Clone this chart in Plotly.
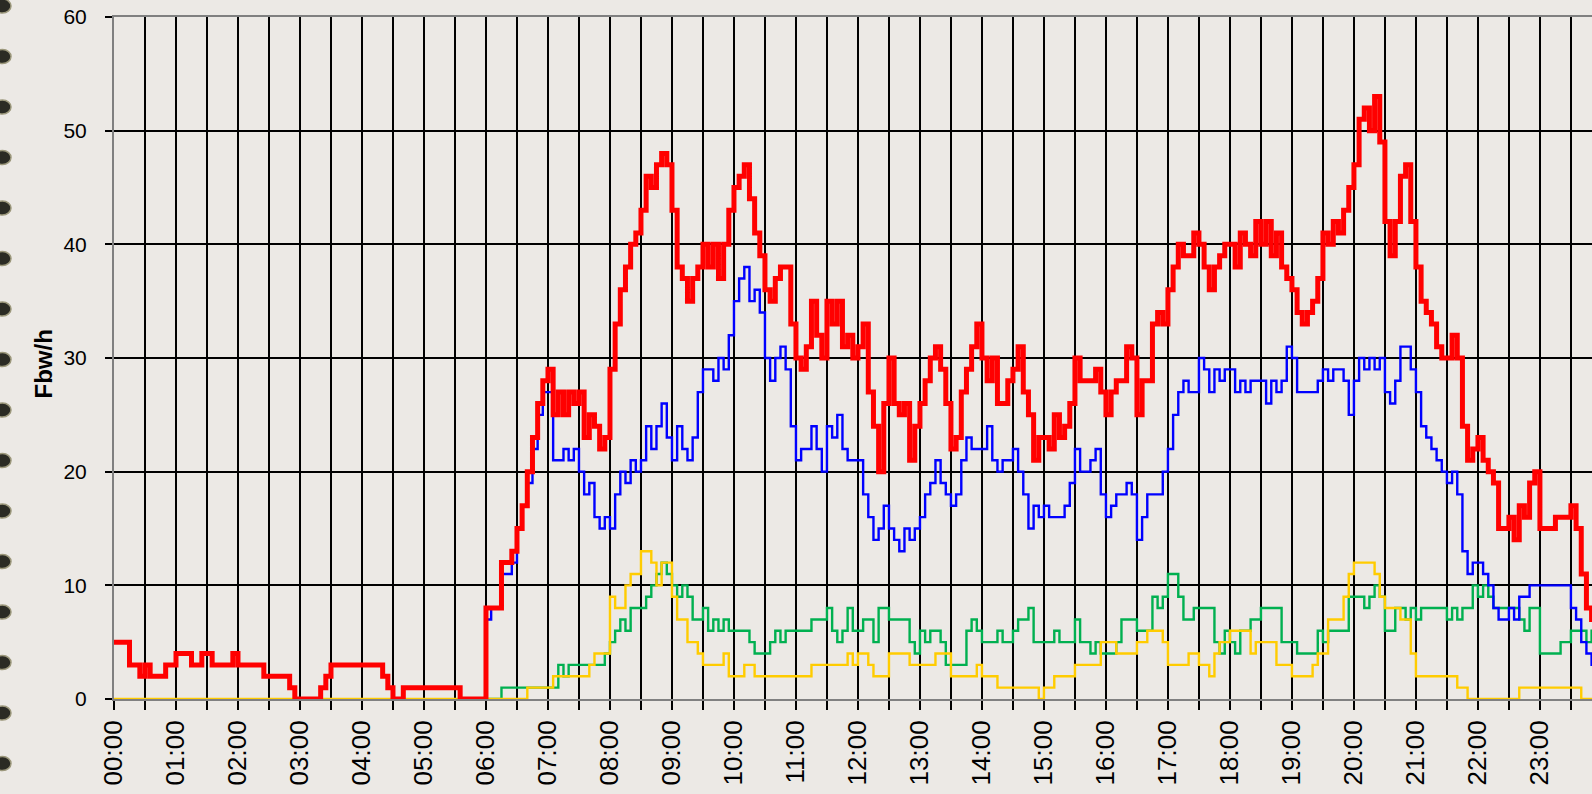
import pandas as pd
import plotly.graph_objects as go

# ─── DATA (5-minute steps, one row per hour) ─────────────────
HORA_INICIO = "2000-01-01 00:00"

vermelho = (
    [5, 5, 5, 3, 3, 2, 3, 2, 2, 2, 3, 3]            # 00
    + [4, 4, 4, 3, 3, 4, 4, 3, 3, 3, 3, 4]          # 01
    + [3, 3, 3, 3, 3, 2, 2, 2, 2, 2, 1, 0]          # 02
    + [0, 0, 0, 0, 1, 2, 3, 3, 3, 3, 3, 3]          # 03
    + [3, 3, 3, 3, 2, 1, 0, 0, 1, 1, 1, 1]          # 04
    + [1, 1, 1, 1, 1, 1, 1, 0, 0, 0, 0, 0]          # 05
    + [8, 8, 8, 12, 12, 13, 15, 17, 20, 23, 26, 28]  # 06
    + [29, 25, 27, 25, 27, 26, 27, 23, 25, 24, 22, 23]  # 07
    + [29, 33, 36, 38, 40, 41, 43, 46, 45, 47, 48, 47]  # 08
    + [43, 38, 37, 35, 37, 38, 40, 38, 40, 37, 40, 43]  # 09
    + [45, 46, 47, 44, 41, 39, 36, 35, 37, 38, 38, 33]  # 10
    + [30, 29, 31, 35, 32, 30, 35, 33, 35, 31, 32, 30]  # 11
    + [31, 33, 27, 24, 20, 26, 30, 26, 25, 26, 21, 24]  # 12
    + [26, 28, 30, 31, 29, 26, 22, 23, 27, 29, 31, 33]  # 13
    + [30, 28, 30, 26, 26, 28, 29, 31, 27, 25, 21, 23]  # 14
    + [23, 22, 25, 23, 24, 26, 30, 28, 28, 28, 29, 27]  # 15
    + [25, 27, 28, 28, 31, 30, 25, 28, 28, 33, 34, 33]  # 16
    + [36, 38, 40, 39, 39, 41, 40, 38, 36, 38, 39, 40]  # 17
    + [40, 38, 41, 40, 39, 42, 40, 42, 39, 41, 38, 37]  # 18
    + [36, 34, 33, 34, 35, 37, 41, 40, 42, 41, 43, 45]  # 19
    + [47, 51, 52, 50, 53, 49, 42, 39, 42, 46, 47, 42]  # 20
    + [38, 35, 34, 33, 31, 30, 30, 32, 30, 24, 21, 22]  # 21
    + [23, 21, 20, 19, 15, 15, 16, 14, 17, 16, 19, 20]  # 22
    + [15, 15, 15, 16, 16, 16, 17, 15, 11, 8, 7, 7]     # 23
)

azul = (
    [None] * 72                                      # 00-05 sem dados
    + [7, 8, 8, 11, 11, 12, 15, 17, 19, 22, 25, 27]     # 06
    + [27, 21, 21, 22, 21, 22, 20, 18, 19, 16, 15, 16]  # 07
    + [15, 18, 20, 19, 21, 20, 21, 24, 22, 24, 26, 23]  # 08
    + [21, 24, 22, 21, 23, 27, 29, 29, 28, 30, 29, 32]  # 09
    + [35, 37, 38, 35, 36, 34, 30, 28, 30, 31, 29, 24]  # 10
    + [21, 22, 22, 24, 22, 20, 24, 23, 25, 22, 21, 21]  # 11
    + [21, 18, 16, 14, 15, 17, 15, 14, 13, 15, 14, 15]  # 12
    + [16, 18, 19, 21, 19, 18, 17, 18, 21, 23, 22, 22]  # 13
    + [22, 24, 21, 20, 21, 21, 22, 20, 18, 15, 17, 16]  # 14
    + [17, 16, 16, 16, 17, 19, 22, 20, 20, 21, 22, 18]  # 15
    + [16, 17, 18, 18, 19, 18, 14, 16, 18, 18, 18, 20]  # 16
    + [22, 25, 27, 28, 27, 27, 30, 29, 27, 29, 28, 29]  # 17
    + [29, 27, 28, 27, 28, 28, 28, 26, 28, 27, 28, 31]  # 18
    + [30, 27, 27, 27, 27, 28, 29, 28, 29, 29, 28, 25]  # 19
    + [28, 30, 29, 30, 29, 30, 27, 26, 28, 31, 31, 29]  # 20
    + [27, 24, 23, 22, 21, 20, 19, 20, 18, 13, 11, 12]  # 21
    + [12, 11, 10, 8, 7, 7, 8, 7, 9, 9, 10, 10]         # 22
    + [10, 10, 10, 10, 10, 10, 8, 7, 5, 4, 3, 3]        # 23
)

verde = (
    [None] * 72                                      # 00-05 sem dados
    + [0, 0, 0, 1, 1, 1, 1, 1, 1, 1, 1, 1]          # 06
    + [1, 1, 3, 2, 3, 3, 3, 3, 3, 3, 3, 4]          # 07
    + [5, 6, 7, 6, 8, 8, 8, 9, 10, 11, 12, 11]      # 08
    + [10, 9, 10, 9, 7, 7, 8, 6, 7, 6, 7, 6]        # 09
    + [6, 6, 6, 5, 4, 4, 4, 5, 6, 5, 6, 6]          # 10
    + [6, 6, 6, 7, 7, 7, 8, 6, 5, 6, 8, 6]          # 11
    + [6, 7, 7, 5, 8, 8, 7, 7, 7, 7, 5, 4]          # 12
    + [6, 5, 6, 6, 5, 3, 3, 3, 3, 6, 7, 6]          # 13
    + [5, 5, 5, 6, 5, 5, 6, 7, 7, 8, 5, 5]          # 14
    + [5, 5, 6, 5, 5, 5, 7, 5, 5, 4, 5, 4]          # 15
    + [4, 4, 5, 7, 7, 7, 6, 6, 6, 9, 8, 9]          # 16
    + [11, 11, 9, 7, 7, 8, 8, 8, 8, 5, 4, 6]        # 17
    + [5, 4, 6, 6, 7, 7, 8, 8, 8, 8, 5, 5]          # 18
    + [5, 4, 4, 4, 4, 6, 5, 6, 6, 6, 6, 9]          # 19
    + [9, 9, 8, 9, 10, 9, 6, 6, 8, 8, 7, 8]         # 20
    + [7, 8, 8, 8, 8, 8, 7, 8, 7, 8, 8, 10]         # 21
    + [9, 10, 9, 8, 8, 8, 8, 8, 7, 6, 8, 8]         # 22
    + [4, 4, 4, 4, 5, 5, 6, 6, 6, 5, 6, 6]          # 23
)

amarelo = (
    [0] * 72                                         # 00-05
    + [0, 0, 0, 0, 0, 0, 0, 0, 1, 1, 1, 1]          # 06
    + [1, 2, 2, 2, 2, 2, 2, 2, 3, 4, 4, 4]          # 07
    + [9, 8, 8, 10, 11, 11, 13, 13, 12, 10, 12, 12]  # 08
    + [9, 7, 7, 5, 5, 4, 3, 3, 3, 3, 4, 2]          # 09
    + [2, 2, 3, 3, 2, 2, 2, 2, 2, 2, 2, 2]          # 10
    + [2, 2, 2, 3, 3, 3, 3, 3, 3, 3, 4, 3]          # 11
    + [4, 4, 3, 2, 2, 2, 4, 4, 4, 4, 3, 3]          # 12
    + [3, 3, 3, 4, 4, 4, 2, 2, 2, 2, 2, 3]          # 13
    + [2, 2, 2, 1, 1, 1, 1, 1, 1, 1, 1, 0]          # 14
    + [1, 1, 2, 2, 2, 2, 3, 3, 3, 3, 3, 5]          # 15
    + [5, 5, 4, 4, 4, 4, 5, 5, 6, 6, 6, 5]          # 16
    + [3, 3, 3, 3, 4, 4, 3, 3, 2, 4, 5, 5]          # 17
    + [6, 6, 6, 6, 4, 5, 5, 5, 5, 3, 3, 3]          # 18
    + [2, 2, 2, 2, 3, 4, 4, 7, 7, 7, 9, 11]         # 19
    + [12, 12, 12, 12, 11, 9, 8, 8, 8, 7, 7, 4]     # 20
    + [2, 2, 2, 2, 2, 2, 2, 2, 1, 1, 0, 0]          # 21
    + [0, 0, 0, 0, 0, 0, 0, 0, 1, 1, 1, 1]          # 22
    + [1, 1, 1, 1, 1, 1, 1, 1, 0, 0, 0, 0]          # 23
)

# ─── ESTILO ──────────────────────────────────────────────────
COR_FUNDO = "#ECE9E5"
COR_BORDA = "#808080"
FONTE = "Liberation Sans, Arial, sans-serif"

# área de plotagem em pixels
ESQ, TOPO, BASE, LARG, ALT = 114, 17, 699, 1592, 794
W_PLOT = LARG - ESQ
H_PLOT = BASE - TOPO

tempos = pd.date_range(HORA_INICIO, periods=len(vermelho), freq="5min")
t0 = tempos[0]

fig = go.Figure()
series = [
    (verde, "#00B050", 2.4),
    (amarelo, "#FFCC00", 2.4),
    (azul, "#0000FF", 2.4),
    (vermelho, "#FF0000", 5),
]
for valores, cor, larg in series:
    fig.add_trace(go.Scatter(
        x=tempos,
        y=valores,
        mode="lines",
        line=dict(color=cor, width=larg, shape="hv"),
        showlegend=False,
        hoverinfo="skip",
    ))

# bolinhas da encadernação na borda esquerda
def px_x(p):
    return (p - ESQ) / W_PLOT

def px_y(p):
    return (BASE - p) / H_PLOT

for k in range(16):
    cy = 6 + 50.5 * k
    fig.add_shape(
        type="circle", xref="paper", yref="paper",
        x0=px_x(-6), x1=px_x(11), y0=px_y(cy + 7), y1=px_y(cy - 7),
        fillcolor="#2B2B24", line=dict(color="#9C987C", width=1.5),
        layer="above",
    )

fig.add_annotation(
    text="<b>Fbw/h</b>", xref="paper", yref="paper",
    x=px_x(27), y=px_y(364), textangle=-90, showarrow=False,
    font=dict(family=FONTE, size=24, color="black"),
)

GRADE = dict(showgrid=True, gridcolor="black", gridwidth=2.4)

fig.update_layout(
    width=LARG, height=ALT,
    paper_bgcolor=COR_FUNDO,
    plot_bgcolor=COR_FUNDO,
    font=dict(family=FONTE, color="black"),
    margin=dict(l=ESQ, r=0, t=TOPO, b=ALT - BASE, pad=0),
    xaxis=dict(
        type="date", automargin=False,
        range=[t0, t0 + pd.Timedelta(hours=23.84)],
        tick0=t0, dtick=3600000, tickformat="%H:%M",
        tickangle=-90, tickfont=dict(size=26),
        ticks="outside", ticklen=9, tickwidth=2, tickcolor="black",
        ticklabelstandoff=0,
        minor=dict(dtick=1800000, ticks="outside", ticklen=9, tickwidth=2,
                   tickcolor="black", **GRADE),
        showline=True, linecolor=COR_BORDA, linewidth=2, mirror=True,
        zeroline=False, fixedrange=True,
        **GRADE,
    ),
    yaxis=dict(
        automargin=False,
        range=[0, 60], dtick=10,
        tickfont=dict(size=21),
        ticks="outside", ticklen=7, tickwidth=2, tickcolor="black",
        ticklabelstandoff=14,
        showline=True, linecolor=COR_BORDA, linewidth=2,
        zeroline=False, fixedrange=True,
        **GRADE,
    ),
)

# a página padrão tem margem de 8px no body; zera para o gráfico ocupar a janela
fig.write_html(
    "out.html",
    config={"displayModeBar": False},
    post_script="document.body.style.margin='0';document.body.style.overflow='hidden';",
)
